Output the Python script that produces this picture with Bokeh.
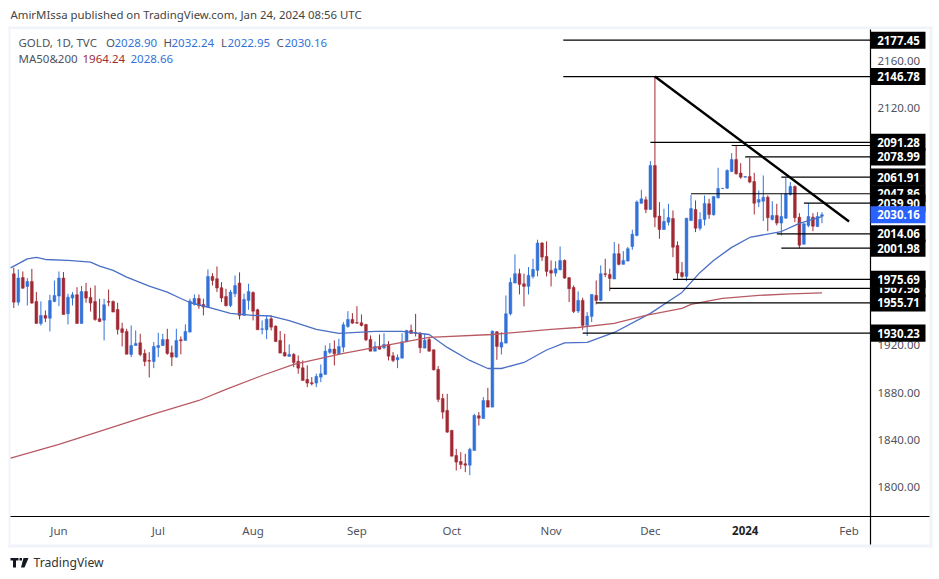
from bokeh.plotting import figure
from bokeh.models import (ColumnDataSource, Label, BoxAnnotation, FixedTicker, PrintfTickFormatter,
                          Range1d, PolyAnnotation, LinearAxis)
from bokeh.embed import file_html
from bokeh.resources import INLINE

open_ = [
 1980.3,1956.4,1977.2,1969.6,1973.9,1957,1938.4,1945.2,1942.9,1957,
 1961.5,1976.7,1946.6,1959.8,1962.6,1938.4,1965.4,1960.4,1957,1942.4,
 1941.2,1957,1957,1950.2,1933.9,1931.7,1912.3,1919.8,1922.1,1913.1,
 1907.2,1906.3,1918.2,1919.8,1924.9,1913.7,1910,1924.6,1924.1,1931.1,
 1954.5,1959.5,1954.5,1952.2,1978.1,1976.1,1968.5,1961.2,1953.6,1963.5,
 1972.5,1945.2,1957.8,1964.6,1950,1933.4,1933.1,1942.4,1936.2,1924.1,
 1914,1910.6,1912.3,1906.4,1901,1891.2,1888.4,1888.1,1893.1,1895.4,
 1914,1916.8,1912.8,1918.4,1935.9,1941.8,1939.2,1939,1937.5,1924.9,
 1915,1919,1917.9,1920.7,1911.1,1907.7,1909.1,1922.9,1932.5,1930.5,
 1930.2,1917.6,1924.9,1916.2,1899.6,1875.1,1865,1848.1,1827,1821.9,
 1820,1818.8,1831.2,1860.5,1858.2,1873.4,1867.8,1931.4,1918.4,1921.8,
 1946.6,1972.5,1980.4,1971.9,1969.7,1978.1,1983.2,2006.3,1995,1983.2,
 1980.9,1983.7,1991.6,1977,1968.8,1948.9,1957.9,1936.8,1944.4,1962.1,
 1957.9,1980.4,1979.8,1975.9,1997.3,1988.3,1991.1,2003.4,2012.7,2039.9,
 2042.8,2034.6,2071.7,2029,2017.7,2023.9,2027,2004.2,1981.4,1978.1,
 2025.3,2034.6,2018.8,2026.2,2039.4,2030.1,2044.4,2052.3,2052.6,2066.7,
 2076.8,2065.3,2061.9,2062.4,2058.2,2040.8,2041.6,2045,2026.2,2029.5,
 2023.1,2027.3,2047.3,2054,2028.1,2005.3,2021.1,2028.1,2020.3,2028.90]
high = [
 1985.4,1984,1982.3,1976.7,1984.5,1964.9,1957,1949.4,1962.6,1974.7,
 1982.3,1981.8,1963.5,1964.9,1969,1970,1972.7,1968.5,1970.5,1959.2,
 1959.2,1967.1,1957.8,1955.9,1939,1933.9,1936.7,1932.5,1929.7,1916.5,
 1914.2,1922.7,1930.5,1929.7,1933.9,1919.8,1933.9,1927.5,1937.6,1959.3,
 1962.9,1962.9,1959.3,1984,1980.9,1986.5,1973.3,1967.7,1966.8,1978.9,
 1981.5,1963.5,1971.9,1965.4,1950.8,1941,1945.2,1945.2,1936.7,1932,
 1929.7,1920.7,1913.4,1911.4,1907.2,1903,1893.1,1896,1903.8,1919.9,
 1921.8,1924.1,1925.5,1939.5,1948.8,1947.1,1953,1946,1938.1,1928.3,
 1923.2,1929.1,1930.2,1923.5,1914.2,1912.2,1930.2,1933,1937.5,1946.5,
 1931.1,1929.7,1926.3,1916.4,1902.4,1879,1879,1848.7,1832.6,1829.8,
 1828.4,1833.5,1862.2,1863.6,1876.2,1884.1,1932.5,1931.9,1931.1,1962.1,
 1977,1996.7,1984.6,1980.4,1986,1993,2009.1,2007.1,2007.7,1991.6,
 1991,2003.4,1992.5,1977.6,1970.5,1965.5,1960.1,1948,1962.9,1974.7,
 1987.4,1993,1984.6,2007.1,2005.7,1999.5,2002.9,2017.5,2042.3,2051.2,
 2045.6,2075.4,2146.78,2040.8,2035.2,2039.4,2033.8,2007.6,1990.2,2027.3,
 2047,2042.2,2032.3,2046.4,2043.6,2045.6,2069.8,2052.5,2068.5,2082.1,
 2088.3,2073.7,2062.5,2078.2,2065.5,2050.6,2063.3,2046.4,2041.6,2039.4,
 2047.8,2061.3,2057.7,2054.9,2031.5,2023.1,2039.9,2031.5,2032.3,2032.24]
low = [
 1951.4,1953.6,1967.7,1953.6,1955,1938.4,1936.7,1939.5,1931.7,1956.4,
 1953,1946,1937.6,1953.6,1938.4,1938.4,1955.9,1948.5,1940.7,1939.5,
 1924.1,1953,1948,1929.1,1919,1912.3,1910,1919.8,1910.8,1902.4,
 1892.8,1900.7,1910,1919.3,1912,1902.4,1909.5,1912.3,1924.1,1930.8,
 1953.6,1950.8,1945.2,1952.2,1970.5,1964.9,1956.4,1952.8,1952.2,1960.7,
 1941.8,1945.2,1950,1941,1933.1,1929.2,1925.2,1932.5,1922.7,1913.4,
 1910.6,1910.6,1901.6,1896,1890.3,1884.7,1886.1,1884.7,1888.9,1895.4,
 1912.8,1903,1912.8,1914.2,1934.7,1938.1,1938.1,1935.9,1923.5,1915,
 1915,1916.4,1916.7,1907.2,1905.8,1900.7,1909.1,1922.6,1929.7,1927.4,
 1913.4,1917.6,1914.8,1898.7,1872,1857.9,1846.1,1826.2,1814.3,1815.7,
 1812.9,1810.4,1831.2,1852.3,1858.2,1867.8,1867.8,1907.7,1912.2,1921.8,
 1945.2,1972.5,1962.9,1952.8,1962.9,1976.2,1978.1,1991.1,1978.1,1969.7,
 1978,1983.2,1976.2,1956.5,1947.2,1947.2,1933.1,1927.8,1939.6,1954.5,
 1957.3,1977.6,1965.7,1975.9,1987.4,1988.3,1990.8,2000.6,2011.9,2039.4,
 2031.5,2034.3,2019.7,2009.8,2017.4,2021.1,1994.4,1976.1,1976.9,1974.1,
 2024.8,2015.5,2016.9,2021.1,2026.7,2029.5,2043.9,2051.8,2052,2066.1,
 2064.1,2060.5,2061.5,2056.8,2030.4,2036.6,2024.8,2016.3,2025.3,2021.1,
 2012.7,2026.7,2046.4,2023.9,2001.98,2005.1,2019.7,2016.3,2019.7,2022.95]
close = [
 1956.4,1976.7,1968.2,1973.9,1955.6,1938.4,1945.2,1942.9,1957.8,1962,
 1976.7,1946,1960.6,1962.6,1938.4,1965.4,1959.8,1955.6,1941.8,1940.1,
 1954.2,1956.4,1948,1933.4,1930.8,1912.5,1919.8,1921.5,1912.3,1906.3,
 1906.6,1919,1919.8,1924.9,1913.1,1910,1924.1,1923.8,1931.7,1957.3,
 1959.5,1953.3,1952.2,1978.1,1974.7,1968.3,1959.8,1953.3,1964.9,1970.5,
 1945.2,1958.7,1965.4,1948.8,1933.1,1933.9,1942.1,1935.3,1923.2,1913.4,
 1910.9,1912.3,1905.5,1900.7,1890.3,1888.1,1887.5,1893.7,1896,1915.1,
 1916.8,1912.8,1919,1937.3,1941.8,1938.7,1938.7,1936.7,1924.6,1915,
 1919,1916.7,1920.7,1910.8,1907.2,1909.7,1922.9,1932.5,1930,1930,
 1917.9,1924.3,1915,1899.3,1874.3,1863.6,1846.7,1826.4,1821.4,1819.4,
 1818.8,1832.1,1860.8,1858.5,1873.4,1867.8,1931.9,1919,1922.4,1946.6,
 1973.1,1980.4,1971.4,1969.7,1979,1984,2006.3,1994.4,1982.3,1980.9,
 1984.6,1991.6,1976.7,1967.7,1948.6,1957.9,1936.8,1944.6,1962.9,1957.9,
 1980.4,1979.8,1976.4,1997.3,1988.3,1991.6,2001.5,2013.6,2040.9,2043.6,
 2034.6,2071.7,2028.1,2017.7,2024.5,2027.8,2002.8,1980.9,1978.1,2027.3,
 2035.4,2018.8,2026.2,2039.7,2030.4,2045.6,2052.3,2052.5,2067.5,2076.8,
 2064.7,2061.9,2062.4,2057.7,2039.9,2043,2045,2027.6,2029.5,2023.1,
 2028.7,2047.8,2054,2027.6,2004.5,2022.5,2028.7,2020.5,2028.7,2030.16]

ma50_bars = [-0.7,3,5,7,12,17,19,22,25,30,34,37,39,44,48,53,57,61,67,72,80,86,92,96,101,105,108,113,118,122,127,133,141,148,152,155,159,163,170,174,179]
ma50_vals = [1985.3,1992.9,1994.1,1992.4,1991.6,1990.2,1986.8,1983.2,1977.5,1969.9,1964.8,1959.5,1956.1,1951.1,1946.9,1945.2,1944.7,1940.9,1933.4,1930,1931.7,1931.7,1929.1,1918.2,1907.2,1900.4,1900.4,1905.5,1916,1922,1922.4,1930.8,1946.9,1964.6,1981.5,1991.6,2002.6,2011,2016,2022.8,2028.66]
ma200_bars = [-0.7,10,19,30,41,47,55,62,73,86,92,106,119,125,133,140,148,150,154,157,165,172,179]
ma200_vals = [1824.7,1836.3,1847.3,1860.8,1873.4,1882.7,1894.5,1903.8,1913.1,1922.4,1926.6,1929.1,1933.4,1935,1938.4,1945.2,1951.1,1954.5,1957.4,1959.5,1962.1,1963.3,1964.24]

level_vals = [2177.45,2146.78,2091.28,2088.6,2078.99,2061.91,2047.86,2039.90,2014.06,2001.98,1975.69,1967.98,1955.71,1930.23]
level_start = [121.7,121.7,141,159,162,170,150,175,169,170,146,132,129,126]
tag_order = [2177.45,2146.78,2091.28,2078.99,2047.86,2061.91,2039.90,2014.06,2001.98,1967.98,1975.69,1955.71,1930.23]
last_price = 2030.16

trend_bars = [142,185]
trend_vals = [2146.78,2024.5]

y_ticks = [1800,1840,1880,1920,1960,2000,2040,2080,2120,2160]
month_bars = [10,32,53,76,97,119,141,185]
month_names = ["Jun","Jul","Aug","Sep","Oct","Nov","Dec","Feb"]
year_bar = 162
year_name = "2024"

BLUE, RED = "#3272d8", "#a02a34"
TEXT = "#50535e"
FONT = "Noto Sans"
n = len(close)
bars = list(range(n))
src = ColumnDataSource(dict(
    x=bars, o=open_, h=high, l=low, c=close,
    top=[max(a, b) for a, b in zip(open_, close)],
    bot=[min(a, b) for a, b in zip(open_, close)],
    col=[BLUE if c >= o else RED for o, c in zip(open_, close)]))

W, H = 939, 578
# the frame fills the canvas; axes sit inside it at the price pane's edges
BAR0, BAR_PER_PX = -2.945, 0.22149
P0, P_PER_PX = 2210.97, 0.84394
def X(px): return BAR0 + px * BAR_PER_PX
def Y(py): return P0 - py * P_PER_PX

p = figure(width=W, height=H, output_backend="svg", toolbar_location=None,
           x_range=Range1d(X(0), X(W)), y_range=Range1d(Y(H), Y(0)),
           min_border_left=0, min_border_right=0, min_border_top=0, min_border_bottom=0,
           x_axis_location=None, y_axis_location=None,
           background_fill_color="white", border_fill_color="white")
p.grid.visible = False
p.outline_line_color = None

def style(axis):
    axis.major_tick_line_color = None
    axis.major_tick_out = 0
    axis.major_tick_in = 0
    axis.minor_tick_line_color = None
    axis.minor_tick_out = 0
    axis.minor_tick_in = 0
    axis.axis_line_color = "black"
    axis.axis_line_width = 1.2
    axis.major_label_text_color = TEXT
    axis.major_label_text_font = FONT
    axis.major_label_text_font_size = "11.5px"

ax = LinearAxis(fixed_location=X(870), bounds=(Y(544), Y(29)), ticker=FixedTicker(ticks=y_ticks),
                formatter=PrintfTickFormatter(format="%.2f"), major_label_standoff=7)
style(ax)
p.add_layout(ax, "right")
bx = LinearAxis(fixed_location=Y(516), bounds=(X(10), X(929)), ticker=FixedTicker(ticks=month_bars),
                major_label_overrides=dict(zip(month_bars, month_names)), major_label_standoff=6)
style(bx)
p.add_layout(bx, "below")

p.segment("x", "h", "x", "l", source=src, line_color="col", line_width=1)
p.vbar(x="x", top="top", bottom="bot", width=0.62, source=src, fill_color="col", line_color="col", line_width=0.5)
p.line(ma50_bars, ma50_vals, line_color="#4a6fc4", line_width=1.3)
p.line(ma200_bars, ma200_vals, line_color="#b85a64", line_width=1.3)
p.segment(level_start, level_vals, [X(870)] * len(level_vals), level_vals, line_color="black", line_width=1.2)
p.line(trend_bars, trend_vals, line_color="black", line_width=2.4)

# annotation "screen" units are measured from the frame's lower-left corner
def sx(px): return px
def sy(py): return H - py

def text(px, py, s, color=TEXT, size="11.5px", style="normal", align="left"):
    p.add_layout(Label(x=sx(px), y=sy(py), x_units="screen", y_units="screen", text=s,
                       text_color=color, text_font=FONT, text_font_size=size, text_font_style=style,
                       text_align=align, text_baseline="middle"))

def box(x0, x1, y0, y1, color, level="underlay"):
    p.add_layout(BoxAnnotation(left=sx(x0), right=sx(x1), top=sy(y0), bottom=sy(y1),
                               left_units="screen", right_units="screen", top_units="screen", bottom_units="screen",
                               fill_color=color, fill_alpha=1, line_color=None, level=level))

TAG_HALF = 7.2  # in price units
def tag(v, bg):
    p.add_layout(BoxAnnotation(left=sx(870), right=sx(925), top=v + TAG_HALF, bottom=v - TAG_HALF,
                               left_units="screen", right_units="screen", top_units="data", bottom_units="data",
                               fill_color=bg, fill_alpha=1, line_color=None))
    p.add_layout(Label(x=sx(898), y=v, x_units="screen", y_units="data", text=f"{v:.2f}",
                       text_color="white", text_font=FONT, text_font_size="11.5px", text_font_style="bold",
                       text_align="center", text_baseline="middle"))

GRAY = "#f0f3fa"
box(8, 932, 26, 28.5, GRAY); box(8, 932, 544, 547, GRAY); box(8, 10, 26, 547, GRAY); box(929, 932, 26, 547, GRAY)

for v in tag_order:
    tag(v, "black")
tag(last_price, "#2962ff")

text(10, 14, "AmirMIssa published on TradingView.com, Jan 24, 2024 08:56 UTC", size="11.4px", color="#444")
text(18, 42, "GOLD, 1D, TVC")
legend_pairs = [(105.5, "O", 114, "2028.90"), (163, "H", 171, "2032.24"), (220.5, "L", 227, "2022.95"), (276, "C", 284, "2030.16")]
for x1, a, x2, b in legend_pairs:
    text(x1, 42, a); text(x2, 42, b, color=BLUE)
text(18, 58, "MA50&200")
text(82, 58, "1964.24", color=RED)
text(130, 58, "2028.66", color=BLUE)
p.add_layout(Label(x=year_bar, y=sy(530), x_units="data", y_units="screen", text=year_name, text_color="#222",
                   text_font=FONT, text_font_size="11.5px", text_font_style="bold", text_align="center", text_baseline="middle"))
text(33, 562, "TradingView", color="#333", size="12.2px")

# logo
def poly(xs, ys, color="#131722"):
    p.add_layout(PolyAnnotation(xs=[sx(a) for a in xs], ys=[sy(b) for b in ys], xs_units="screen", ys_units="screen",
                                fill_color=color, fill_alpha=1, line_color=None))
poly([10, 18, 18, 15.5, 15.5, 12.5, 12.5, 10], [557.5, 557.5, 560, 560, 567, 567, 560, 560])
poly([19, 21.5, 21.5, 19], [557.5, 557.5, 560, 560])
poly([23, 28, 24, 20.5], [557.5, 557.5, 567, 567])

open("out.html", "w").write(file_html(p, INLINE))
